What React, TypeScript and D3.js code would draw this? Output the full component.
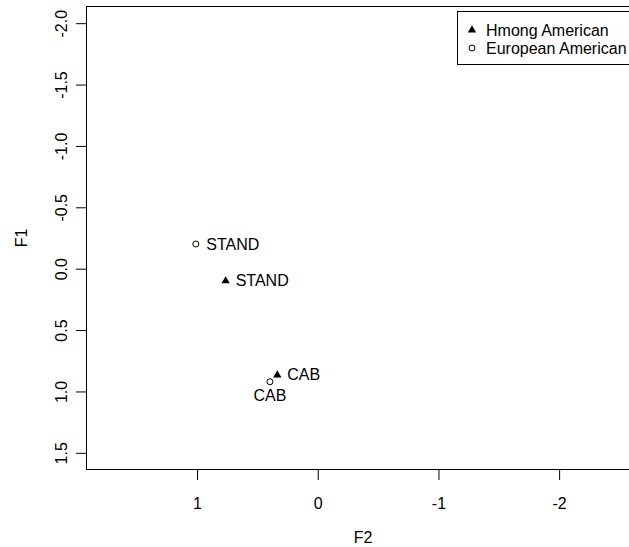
import React, { useRef, useEffect } from 'react';
import { select, scaleLinear, axisBottom, axisLeft, symbol, symbolTriangle } from 'd3';

// F2 (x) / F1 (y) scores per condition
const conditions = ['STAND', 'CAB'];
const hmongF2 = [0.763, 0.335];
const hmongF1 = [0.1, 0.866];
const euroF2 = [1.01, 0.396];
const euroF1 = [-0.201, 0.921];
const euroLabelSide = ['right', 'below'];

const groups = ['Hmong American', 'European American'];
const xTicks = [1, 0, -1, -2];
const yTicks = [-2, -1.5, -1, -0.5, 0, 0.5, 1, 1.5];

const FONT = '"Liberation Sans", Arial, sans-serif';

const App = () => {
  const xAxisRef = useRef(null);
  const yAxisRef = useRef(null);

  // R-style reversed axes with 4% padding
  const x = scaleLinear().domain([1.92, -2.67]).range([86, 640]);
  const y = scaleLinear().domain([-2.14, 1.64]).range([6, 470]);

  const tri = symbol().type(symbolTriangle).size(30)();

  useEffect(() => {
    document.body.style.margin = '0';

    const xAxis = axisBottom(x)
      .tickValues(xTicks)
      .tickSize(10)
      .tickPadding(17.5)
      // @ts-ignore
      .tickFormat((d) => String(d));
    // @ts-ignore
    const gx = select(xAxisRef.current).call(xAxis);
    gx.select('.domain').remove();
    gx.selectAll('text').attr('font-size', 16).attr('font-family', FONT).attr('fill', '#000');

    const yAxis = axisLeft(y)
      .tickValues(yTicks)
      .tickSize(10)
      // @ts-ignore
      .tickFormat((d) => (+d).toFixed(1));
    // @ts-ignore
    const gy = select(yAxisRef.current).call(yAxis);
    gy.select('.domain').remove();
    gy.selectAll('text')
      .attr('x', null)
      .attr('dy', null)
      .attr('text-anchor', 'middle')
      .attr('transform', 'translate(-19,0) rotate(-90)')
      .attr('font-size', 16)
      .attr('font-family', FONT)
      .attr('fill', '#000');
  }, []);

  return (
    <svg width={629} height={547} style={{ display: 'block', background: '#fff' }}>
      <rect x={86.5} y={6.5} width={554} height={463} fill="none" stroke="#000" strokeWidth={1} />
      <g ref={xAxisRef} transform="translate(0,470)" />
      <g ref={yAxisRef} transform="translate(86,0)" />

      <text x={363} y={543} textAnchor="middle" fontSize={16} fontFamily={FONT}>F2</text>
      <text transform="translate(27,238) rotate(-90)" textAnchor="middle" fontSize={16} fontFamily={FONT}>F1</text>

      {conditions.map((c, i) => (
        <g key={'h' + c}>
          <path d={tri} transform={`translate(${x(hmongF2[i])},${y(hmongF1[i])})`} fill="#000" />
          <text x={x(hmongF2[i]) + 10} y={y(hmongF1[i]) + 5.5} fontSize={16} fontFamily={FONT}>{c}</text>
        </g>
      ))}
      {conditions.map((c, i) => (
        <g key={'e' + c}>
          <circle cx={x(euroF2[i])} cy={y(euroF1[i])} r={3} fill="none" stroke="#000" strokeWidth={1} />
          {euroLabelSide[i] === 'right' ? (
            <text x={x(euroF2[i]) + 10.5} y={y(euroF1[i]) + 5.5} fontSize={16} fontFamily={FONT}>{c}</text>
          ) : (
            <text x={x(euroF2[i])} y={y(euroF1[i]) + 19.5} textAnchor="middle" fontSize={16} fontFamily={FONT}>{c}</text>
          )}
        </g>
      ))}

      <g>
        <rect x={457.5} y={11.5} width={182} height={53} fill="#fff" stroke="#000" strokeWidth={1} />
        <path d={tri} transform="translate(472,30)" fill="#000" />
        <circle cx={472} cy={48} r={3} fill="none" stroke="#000" strokeWidth={1} />
        <text x={486} y={35.5} fontSize={16} fontFamily={FONT}>{groups[0]}</text>
        <text x={486} y={53.5} fontSize={16} fontFamily={FONT}>{groups[1]}</text>
      </g>
    </svg>
  );
};

export default App;
